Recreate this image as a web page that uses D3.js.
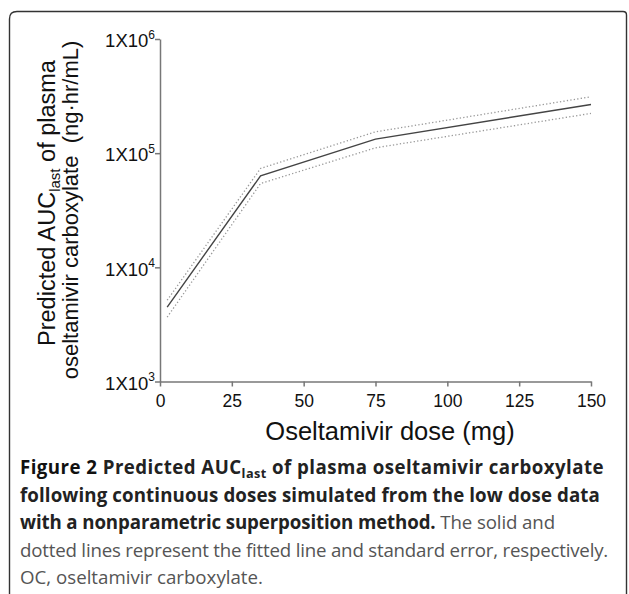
<!DOCTYPE html>
<html><head><meta charset="utf-8">
<script src="https://cdn.jsdelivr.net/npm/d3@7"></script>
<style>
html,body{margin:0;padding:0;background:#fff;}
svg{display:block;}
</style></head>
<body>
<svg id="chart" width="629" height="594"></svg>
<script>
// ---- data ----
const doses = [2.5, 35, 75, 150];
const fitted = [4490, 63200, 132700, 267000];
const upperSE = [5150, 73500, 153800, 311900];
const lowerSE = [3660, 54200, 111400, 222900];
const xTicks = [0, 25, 50, 75, 100, 125, 150];
const yTickExponents = [3, 4, 5, 6];
const xTitle = "Oseltamivir dose (mg)";
const captionLines = [
  [{t:"Figure 2 ", b:true, c:"#111"}, {t:"Predicted AUC", b:true}, {t:"last", b:true, sub:true}, {t:" of plasma oseltamivir carboxylate", b:true, unsub:true}],
  [{t:"following continuous doses simulated from the low dose data", b:true}],
  [{t:"with a nonparametric superposition method.", b:true}, {t:" The solid and", b:false}],
  [{t:"dotted lines represent the fitted line and standard error, respectively.", b:false}],
  [{t:"OC, oseltamivir carboxylate.", b:false}]
];

const svg = d3.select("#chart");
const axisFont = "'Liberation Sans', Arial, sans-serif";
const capFont = "'Open Sans', sans-serif";

// frame
svg.append("path")
  .attr("d", "M9.5,600 L9.5,19 Q9.5,11.5 17,11.5 L623,11.5 Q626.5,11.5 626.5,15 L626.5,600")
  .attr("fill", "none").attr("stroke", "#333").attr("stroke-width", 1.4);

const x = d3.scaleLinear().domain([0, 150]).range([160, 591]);
const y = d3.scaleLog().domain([1e3, 1e6]).range([381.5, 39]);

// axes
const gx = svg.append("g").attr("transform", "translate(0,381.5)")
  .call(d3.axisBottom(x).tickValues(xTicks).tickSize(5).tickPadding(8).tickSizeOuter(0));
gx.selectAll("text").attr("font-family", axisFont).attr("font-size", 17.5).attr("fill", "#111");

const gy = svg.append("g").attr("transform", "translate(160,0)")
  .call(d3.axisLeft(y).tickValues(yTickExponents.map(e => Math.pow(10, e))).tickSize(5).tickPadding(4).tickSizeOuter(0).tickFormat(""));
gy.selectAll(".tick").each(function(d) {
  const e = Math.round(Math.log10(d));
  const t = d3.select(this).select("text")
    .attr("font-family", axisFont).attr("font-size", 18.5).attr("fill", "#111")
    .attr("dy", "0.42em").attr("x", -5);
  t.append("tspan").text("1X10");
  t.append("tspan").attr("font-size", 12).attr("dy", "-0.7em").text(e);
});
[gx, gy].forEach(g => {
  g.selectAll("path,line").attr("stroke", "#777").attr("stroke-width", 1.5);
});

// lines
const line = d3.line().x(d => x(d[0])).y(d => y(d[1]));
svg.append("path").datum(doses.map((d, i) => [d, upperSE[i]]))
  .attr("d", line).attr("fill", "none").attr("stroke", "#999").attr("stroke-width", 1.3).attr("stroke-dasharray", "1.3,2.2");
svg.append("path").datum(doses.map((d, i) => [d, lowerSE[i]]))
  .attr("d", line).attr("fill", "none").attr("stroke", "#999").attr("stroke-width", 1.3).attr("stroke-dasharray", "1.3,2.2");
svg.append("path").datum(doses.map((d, i) => [d, fitted[i]]))
  .attr("d", line).attr("fill", "none").attr("stroke", "#444").attr("stroke-width", 1.4);

// y title
const yt = svg.append("text").attr("transform", "translate(55,203) rotate(-90)")
  .attr("text-anchor", "middle").attr("font-family", axisFont).attr("font-size", 23.5).attr("fill", "#111");
yt.append("tspan").text("Predicted AUC");
yt.append("tspan").attr("font-size", 15).attr("dy", 5).text("last");
yt.append("tspan").attr("dy", -5).text(" of plasma");
svg.append("text").attr("transform", "translate(78,210) rotate(-90)")
  .attr("text-anchor", "middle").attr("font-family", axisFont).attr("font-size", 22).attr("fill", "#111")
  .attr("xml:space", "preserve").style("white-space", "pre")
  .text("oseltamivir carboxylate  (ng\u00b7hr/mL)");

// x title
svg.append("text").attr("x", 390).attr("y", 440).attr("text-anchor", "middle")
  .attr("font-family", axisFont).attr("font-size", 25.5).attr("fill", "#111").text(xTitle);

// caption
const baselines = [474, 501.5, 529, 556.5, 584];
const targetEnds = [604, 600, 555, 608, null];
const base = 17;
const texts = captionLines.map((segs, i) => {
  const t = svg.append("text").attr("x", 20).attr("y", baselines[i])
    .attr("font-family", capFont).attr("font-size", base);
  let n = 0;
  segs.forEach(s => {
    const ts = t.append("tspan").text(s.t)
      .attr("font-weight", s.b ? 700 : 400)
      .attr("fill", s.c ? s.c : (s.b ? "#222" : "#555"));
    if (s.sub) ts.attr("data-sub", 1).attr("dy", 4);
    if (s.unsub) ts.attr("dy", -4);
    n += s.t.length;
  });
  return {t, n};
});
// common font size from the fitted lines
const ratios = texts.slice(0, 4).map((o, i) => (targetEnds[i] - 20) / o.t.node().getComputedTextLength());
const fs = base * d3.mean(ratios);
texts.forEach((o, i) => {
  o.t.attr("font-size", fs.toFixed(2));
  o.t.selectAll("tspan[data-sub]").attr("font-size", (fs * 0.68).toFixed(2));
  if (targetEnds[i] != null) {
    const w = o.t.node().getComputedTextLength();
    o.t.attr("letter-spacing", ((targetEnds[i] - 20 - w) / o.n).toFixed(3));
  }
});
</script>
</body></html>
